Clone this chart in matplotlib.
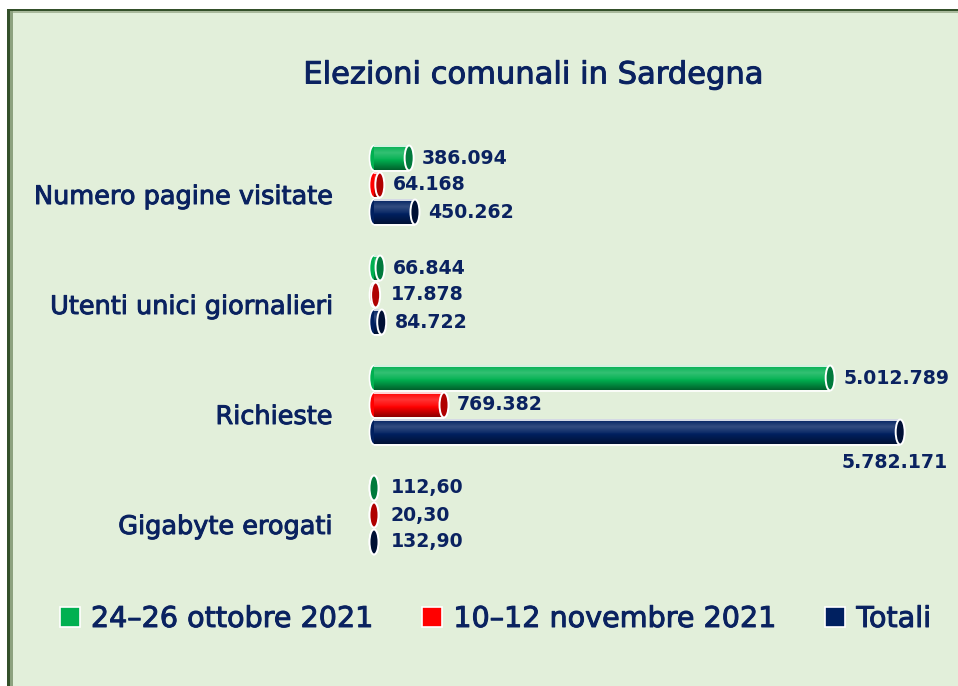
import numpy as np
import matplotlib.pyplot as plt
import matplotlib.patheffects as pe
from matplotlib.patches import Ellipse, Rectangle, Patch
from matplotlib.colors import to_rgb

categories = ['Numero pagine visitate', 'Utenti unici giornalieri', 'Richieste', 'Gigabyte erogati']
series = ['24–26 ottobre 2021', '10–12 novembre 2021', 'Totali']
ottobre = [386094, 66844, 5012789, 112.60]
novembre = [64168, 17878, 769382, 20.30]
totali = [450262, 84722, 5782171, 132.90]
lab_ottobre = ['386.094', '66.844', '5.012.789', '112,60']
lab_novembre = ['64.168', '17.878', '769.382', '20,30']
lab_totali = ['450.262', '84.722', '5.782.171', '132,90']

colors = ['#00b050', '#ff0000', '#002060']
cap_colors = ['#007a3c', '#b00000', '#001035']
text_col = '#0a2260'
bg = '#e2efda'
heavy = [pe.withStroke(linewidth=0.7, foreground=text_col)]

W, H = 958, 686
fig = plt.figure(figsize=(W / 100, H / 100), dpi=100)
fig.patch.set_facecolor('white')

# panel + frame
fig.patches.append(Rectangle((7 / W, 0), 1, 1 - 9 / H, transform=fig.transFigure,
                             facecolor=bg, edgecolor='none', zorder=-10))
fig.patches.append(Rectangle((7 / W, 1 - 11 / H), 1, 2 / H, transform=fig.transFigure,
                             facecolor='#34502a', edgecolor='none', zorder=-9))
fig.patches.append(Rectangle((7 / W, 1 - 12.5 / H), 1, 1.5 / H, transform=fig.transFigure,
                             facecolor='#a9b99c', edgecolor='none', zorder=-9))
fig.patches.append(Rectangle((10 / W, 0), 2.5 / W, 1 - 11 / H, transform=fig.transFigure,
                             facecolor='#8da27f', edgecolor='none', zorder=-8))
fig.patches.append(Rectangle((7 / W, 0), 3 / W, 1 - 9 / H, transform=fig.transFigure,
                             facecolor='#34502a', edgecolor='none', zorder=-7))

px = 9.1e-5  # pixels per unit
ax = fig.add_axes([374 / W, 1 - 570 / H, 584 / W, 440 / H])
ax.set_facecolor('none')

bar_h = 25 / 110
step = 27 / 110
cap_w = 9 / px


def gradient(col):
    base = np.array(to_rgb(col))
    t = np.linspace(0, 1, 64)
    amt = np.interp(t, [0, 0.3, 0.55, 1], [0.0, 0.2, 0.05, -0.45])
    rows = []
    for a in amt:
        if a >= 0:
            rows.append(base + (1 - base) * a)
        else:
            rows.append(base * (1 + a))
    return np.array(rows).reshape(64, 1, 3)


all_vals = [ottobre, novembre, totali]
all_labs = [lab_ottobre, lab_novembre, lab_totali]

for s in range(3):
    img = gradient(colors[s])
    for i, v in enumerate(all_vals[s]):
        y = i + (s - 1) * step
        top, bot = y - bar_h / 2, y + bar_h / 2
        ax.add_patch(Ellipse((0, y), cap_w, bar_h, facecolor=colors[s],
                             edgecolor='white', lw=1.2, zorder=2, clip_on=False))
        ax.imshow(img, extent=(0, v, bot, top), origin='upper', aspect='auto',
                  interpolation='bilinear', zorder=3)
        ax.plot([0, v], [top, top], color='white', lw=1.2, zorder=4, solid_capstyle='butt')
        ax.plot([0, v], [bot, bot], color='white', lw=1.2, zorder=4, solid_capstyle='butt')
        ax.add_patch(Ellipse((v, y), cap_w, bar_h, facecolor=cap_colors[s],
                             edgecolor='white', lw=1.4, zorder=5, clip_on=False))
        lab = all_labs[s][i]
        if s == 2 and i == 2:
            ax.annotate(lab, xy=(v, y), xytext=(48, -30), textcoords='offset pixels',
                        ha='right', va='center', fontsize=13.6, fontweight='bold',
                        color=text_col, annotation_clip=False)
        else:
            off = max(13, 17 - v * px)
            ax.annotate(lab, xy=(v, y), xytext=(off, 0), textcoords='offset pixels',
                        ha='left', va='center', fontsize=13.6, fontweight='bold',
                        color=text_col, annotation_clip=False)

ax.set_xlim(0, 584 / px)
ax.set_ylim(3.5, -0.5)
ax.set_xticks([])
ax.set_yticks(np.arange(len(categories)) + 9 / 110)
ax.set_yticklabels(categories, fontsize=18.4, color=text_col)
for t in ax.get_yticklabels():
    t.set_path_effects(heavy)
ax.tick_params(axis='y', length=0, pad=42 * 0.72)
for sp in ax.spines.values():
    sp.set_visible(False)

fig.text(533 / W, 1 - 75 / H, 'Elezioni comunali in Sardegna', ha='center', va='center',
         fontsize=22, color=text_col, path_effects=heavy)

handles = [Patch(facecolor=c, edgecolor='white', lw=1.2) for c in colors]
leg = fig.legend(handles, series, loc='center left', bbox_to_anchor=(60 / W, 1 - 619 / H),
                 ncol=3, frameon=False, fontsize=20.6, handlelength=0.7, handleheight=0.7,
                 handletextpad=0.38, columnspacing=1.7, borderpad=0, borderaxespad=0,
                 labelcolor=text_col)
for t in leg.get_texts():
    t.set_path_effects(heavy)

fig.savefig('out.png', dpi=100, facecolor=fig.get_facecolor())
